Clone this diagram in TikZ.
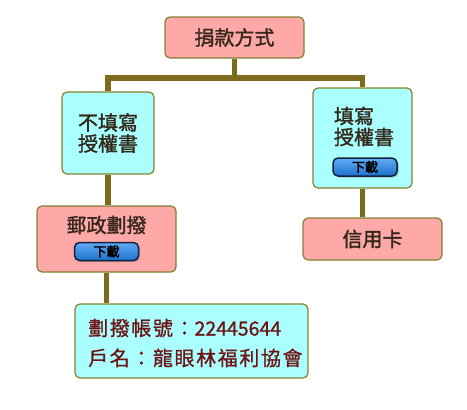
\documentclass[tikz,border=0pt]{standalone}
\usepackage{fontspec}
\setmainfont{Noto Sans CJK TC}
\usetikzlibrary{shadows}
\definecolor{pinkbox}{HTML}{FFA8A8}
\definecolor{cyanbox}{HTML}{AAFFFF}
\definecolor{boxline}{HTML}{85802E}
\definecolor{branch}{HTML}{7C6A1E}
\definecolor{boxtext}{HTML}{33281A}
\definecolor{acctext}{HTML}{6E1414}
\definecolor{btnblue}{HTML}{1E86F0}
\definecolor{btnline}{HTML}{14213F}
\newcommand{\accdigits}[1]{{\fontsize{19.5}{30}\selectfont\addfontfeature{LetterSpace=0}#1}}
\tikzset{
  box/.style={draw=boxline, line width=1.2pt, rounded corners=5pt, inner sep=0pt},
  pinkbox/.style={box, fill=pinkbox},
  cyanbox/.style={box, fill=cyanbox},
  boxlabel/.style={text=boxtext, font=\fontsize{20}{21}\selectfont\addfontfeature{FakeBold=1.5}, inner sep=0pt},
  btn/.style={draw=btnline, line width=1.5pt, rounded corners=5pt,
    top color=btnblue!70!white, bottom color=btnblue!85!black,
    minimum width=64pt, minimum height=18pt, inner sep=0pt,
    drop shadow={shadow xshift=1.5pt, shadow yshift=-1.5pt, opacity=.5},
    font=\fontsize{13}{14}\selectfont\addfontfeature{FakeBold=3}},
  link/.style={draw=branch, line width=5.5pt}
}
\begin{document}
\begin{tikzpicture}[x=1pt, y=-1pt]
    \useasboundingbox (0,0) rectangle (467,410);

    % Boxes
    \node[pinkbox, minimum width=139pt, minimum height=41pt] (method) at (234.5,37.5) {};
    \node[cyanbox, minimum width=92pt, minimum height=82pt] (noform) at (108,133) {};
    \node[cyanbox, minimum width=99pt, minimum height=100pt] (form) at (362.5,138) {};
    \node[pinkbox, minimum width=139pt, minimum height=66pt] (post) at (106.5,239) {};
    \node[pinkbox, minimum width=139pt, minimum height=42pt] (card) at (372.5,239) {};
    \node[cyanbox, minimum width=233pt, minimum height=74pt] (account) at (191.5,341) {};

    % Branches
    \coordinate (bar) at (0,78);
    \draw[link] (method.south) -- (method.south |- bar);
    \draw[link] (noform.north) -- (noform.north |- bar) -- (form.north |- bar) -- (form.north);
    \draw[link] (noform.south) -- (noform.south |- post.north);
    \draw[link] (post.south) -- (post.south |- account.north);
    \draw[link] (form.south) -- (form.south |- card.north);

    % Texts
    \node[boxlabel] (methodtext) at (method) {捐款方式};
    \node[boxlabel, align=left] (noformtext) at (108,133) {不填寫\\授權書};
    \node[boxlabel, align=left] (formtext) at (364,126.5) {填寫\\授權書};
    \node[boxlabel] (posttext) at (106.5,225) {郵政劃撥};
    \node[boxlabel] (cardtext) at (card) {信用卡};
    \node[text=acctext, font=\fontsize{20}{30}\selectfont\addfontfeature{LetterSpace=8,FakeBold=1},
      align=left, anchor=west, inner sep=0pt] (acctext) at (88,343)
      {劃撥帳號：\accdigits{22445644}\\戶名：龍眼林福利協會};

    % Download buttons
    \node[btn] (formbtn) at (365,167) {下載};
    \node[btn] (postbtn) at (106.5,251.5) {下載};
\end{tikzpicture}
\end{document}
